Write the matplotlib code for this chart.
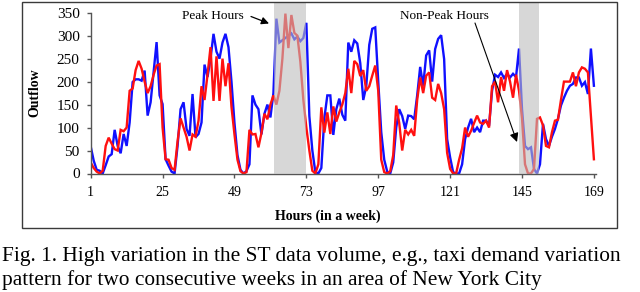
import matplotlib
matplotlib.use("Agg")
import matplotlib.pyplot as plt
from matplotlib.patches import Rectangle
import numpy as np

hours = list(range(1, 170))

week1_blue = [
    59, 28, 8, 6, 0, 18, 37, 42, 95, 60, 44, 86, 60, 111, 199, 205, 205, 202, 224, 126,
    155, 220, 286, 170, 151, 31, 17, 4, 0, 60, 140, 155, 97, 82, 173, 79, 86, 111, 237, 210,
    250, 304, 265, 250, 285, 304, 275, 200, 110, 40, 8, 0, 5, 20, 170, 150, 140, 85, 130, 150,
    122, 175, 337, 285, 290, 295, 300, 305, 292, 298, 288, 295, 328, 125, 50, 3, 0, 12, 120, 170,
    170, 84, 140, 163, 128, 115, 285, 265, 290, 283, 240, 160, 190, 280, 315, 318, 200, 90, 30, 4,
    0, 24, 100, 140, 125, 97, 126, 125, 118, 170, 232, 191, 257, 268, 200, 271, 293, 301, 249, 75,
    35, 3, 0, 0, 20, 75, 100, 119, 90, 100, 90, 115, 115, 104, 180, 215, 210, 220, 208, 217,
    209, 217, 210, 272, 140, 60, 53, 57, 10, 0, 20, 108, 75, 60, 80, 97, 119, 148, 165, 180,
    191, 195, 209, 209, 191, 199, 173, 272, 191,
]

week2_red = [
    24, 12, 4, 0, 6, 60, 78, 65, 53, 50, 95, 92, 100, 180, 185, 225, 245, 228, 200, 175,
    190, 215, 235, 238, 100, 31, 30, 12, 8, 70, 120, 100, 80, 50, 85, 80, 115, 190, 160, 215,
    275, 158, 255, 158, 250, 190, 240, 145, 85, 30, 5, 0, 3, 95, 85, 86, 57, 88, 130, 118,
    150, 170, 150, 180, 250, 348, 273, 345, 306, 300, 243, 160, 100, 50, 6, 0, 20, 144, 89, 133,
    86, 146, 113, 133, 150, 175, 228, 175, 245, 238, 212, 225, 180, 190, 213, 235, 180, 30, 3, 0,
    5, 40, 148, 110, 50, 95, 85, 95, 82, 160, 209, 175, 213, 220, 165, 160, 195, 175, 140, 45,
    10, 0, 0, 30, 55, 100, 80, 93, 110, 126, 111, 108, 115, 100, 190, 200, 155, 210, 180, 225,
    200, 165, 215, 180, 120, 20, 0, 0, 10, 119, 122, 105, 60, 57, 90, 115, 117, 160, 200, 200,
    200, 220, 190, 220, 231, 228, 220, 125, 31,
]

x_ticks = [1, 25, 49, 73, 97, 121, 145, 169]
y_ticks = [0, 50, 100, 150, 200, 250, 300, 350]
peak_span = (62.3, 73.0)
nonpeak_span = (144.1, 150.8)

W, H = 640, 292
fig = plt.figure(figsize=(W / 100, H / 100), dpi=100)
serif = ["Liberation Serif", "DejaVu Serif"]
plt.rcParams["font.family"] = serif

# outer frame
fig.patches.append(Rectangle((22 / W, 1 - 228 / H), (617 - 22) / W, (228 - 2) / H,
                             transform=fig.transFigure, fill=False,
                             edgecolor="#3a3a3a", lw=1.0))

ax_l, ax_r = 90.7, 596.0
ax_t, ax_b = 12.7, 173.5
ax = fig.add_axes([ax_l / W, 1 - ax_b / H, (ax_r - ax_l) / W, (ax_b - ax_t) / H])
ax.set_facecolor("none")

ax.plot(hours, week1_blue, color="#1010ff", lw=1.7, zorder=2, solid_joinstyle="miter")
ax.plot(hours, week2_red, color="#ff1010", lw=1.7, zorder=2.1, solid_joinstyle="miter")

ymax_frac = (ax_b - 2) / (ax_b - ax_t)
for s in (peak_span, nonpeak_span):
    ax.axvspan(s[0], s[1], ymin=0, ymax=ymax_frac, color="#bdbdbd", alpha=0.6,
               lw=0, zorder=3, clip_on=False)

ax.set_xlim(1, 169.7)
ax.set_ylim(0, 350)
ax.set_xticks(x_ticks)
ax.set_yticks(y_ticks)
ax.set_xticklabels([str(v) for v in x_ticks])
ax.set_yticklabels([str(v) for v in y_ticks])
for sp in ("top", "right"):
    ax.spines[sp].set_visible(False)
for sp in ("left", "bottom"):
    ax.spines[sp].set_color("#555555")
    ax.spines[sp].set_linewidth(1.0)
ax.tick_params(axis="both", direction="out", length=3, width=1, color="#555555",
               labelcolor="black")
ax.tick_params(axis="y", pad=5, labelsize=11)
ax.tick_params(axis="x", pad=6, labelsize=10)

fig.text(35 / W, 1 - 93 / H, "Outflow", rotation=90, ha="center", va="center",
         fontsize=10, fontweight="bold")
fig.text(327.5 / W, 1 - 216 / H, "Hours (in a week)", ha="center", va="center",
         fontsize=10, fontweight="bold")

def px2data(px, py):
    return (1 + (px - ax_l) * (169.7 - 1) / (ax_r - ax_l),
            (ax_b - py) * 350 / (ax_b - ax_t))

ax.text(*px2data(213, 16), "Peak Hours", ha="center", va="center", fontsize=9.5,
        clip_on=False)
ax.annotate("", xy=px2data(269, 23.5), xytext=px2data(251, 16.5),
            arrowprops=dict(arrowstyle="-|>", color="black", lw=0.9, mutation_scale=11,
                            shrinkA=0, shrinkB=0), annotation_clip=False)
ax.text(*px2data(444, 16), "Non-Peak Hours", ha="center", va="center", fontsize=9.5,
        clip_on=False)
ax.annotate("", xy=px2data(517, 142), xytext=px2data(475, 23),
            arrowprops=dict(arrowstyle="-|>", color="black", lw=0.8, mutation_scale=13,
                            shrinkA=0, shrinkB=0), annotation_clip=False)

fig.text(2 / W, 1 - 260.5 / H,
         "Fig. 1. High variation in the ST data volume, e.g., taxi demand variation",
         ha="left", va="baseline", fontsize=15.4)
fig.text(2 / W, 1 - 285.5 / H,
         "pattern for two consecutive weeks in an area of New York City",
         ha="left", va="baseline", fontsize=15.4)

fig.savefig("out.png", dpi=100)
